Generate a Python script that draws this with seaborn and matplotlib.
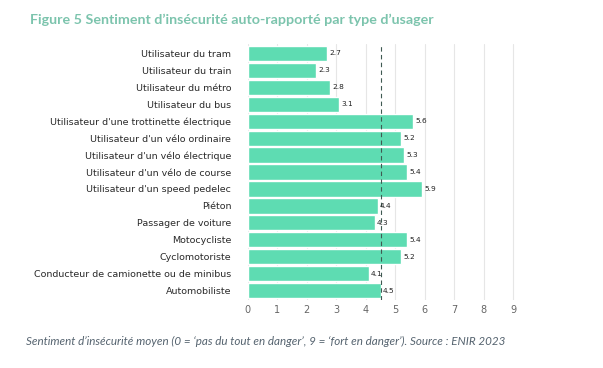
import pandas as pd
import matplotlib.pyplot as plt
import seaborn as sns

# Data
categories = [
    "Utilisateur du tram",
    "Utilisateur du train",
    "Utilisateur du métro",
    "Utilisateur du bus",
    "Utilisateur d'une trottinette électrique",
    "Utilisateur d'un vélo ordinaire",
    "Utilisateur d'un vélo électrique",
    "Utilisateur d'un vélo de course",
    "Utilisateur d'un speed pedelec",
    "Piéton",
    "Passager de voiture",
    "Motocycliste",
    "Cyclomotoriste",
    "Conducteur de camionette ou de minibus",
    "Automobiliste",
]
values = [2.7, 2.3, 2.8, 3.1, 5.6, 5.2, 5.3, 5.4, 5.9, 4.4, 4.3, 5.4, 5.2, 4.1, 4.5]
mean_value = 4.5
x_ticks = list(range(10))

df = pd.DataFrame({"type": categories, "score": values})

sns.set_style("white")
plt.rcParams['font.family'] = ['DejaVu Sans']

fig = plt.figure(figsize=(6.03, 3.68), dpi=100)
ax = fig.add_axes([0.411, 0.185, 0.455, 0.695])

ax.set_axisbelow(True)
for t in x_ticks:
    ax.axvline(t, color="#e6e6e6", lw=0.8, zorder=0)

sns.barplot(data=df, x="score", y="type", color="#5edcb2", saturation=1,
            width=0.9, ax=ax, zorder=2)

for i, v in enumerate(values):
    ax.text(v + 0.08, i, f"{v:.1f}", va="center", ha="left",
            fontsize=5.3, color="#222222", zorder=4)

ax.axvline(mean_value, color="#3f5a52", lw=0.8, ls=(0, (4, 3)), zorder=3)

ax.set_xlim(0, 9.3)
ax.set_ylim(len(categories) - 0.45, -0.55)
ax.set_xticks(x_ticks)
ax.tick_params(axis="x", labelsize=7, colors="#666666", length=0, pad=4)
ax.tick_params(axis="y", labelsize=6.8, colors="#2a2a2a", length=0, pad=12)
ax.set_xlabel("")
ax.set_ylabel("")
sns.despine(ax=ax, left=True, bottom=True)

fig.text(0.05, 0.945, "Figure 5 Sentiment d’insécurité auto-rapporté par type d’usager",
         fontsize=10.25, fontweight="bold", color="#7cc4ad", ha="left", va="center",
         family=["Lato", "DejaVu Sans"])
fig.text(0.043, 0.072,
         "Sentiment d’insécurité moyen (0 = ‘pas du tout en danger’, 9 = ‘fort en danger’). Source : ENIR 2023",
         fontsize=8.4, style="italic", color="#55636f", ha="left", va="center",
         family=["Lato", "DejaVu Sans"])

fig.savefig("out.png", dpi=100)
